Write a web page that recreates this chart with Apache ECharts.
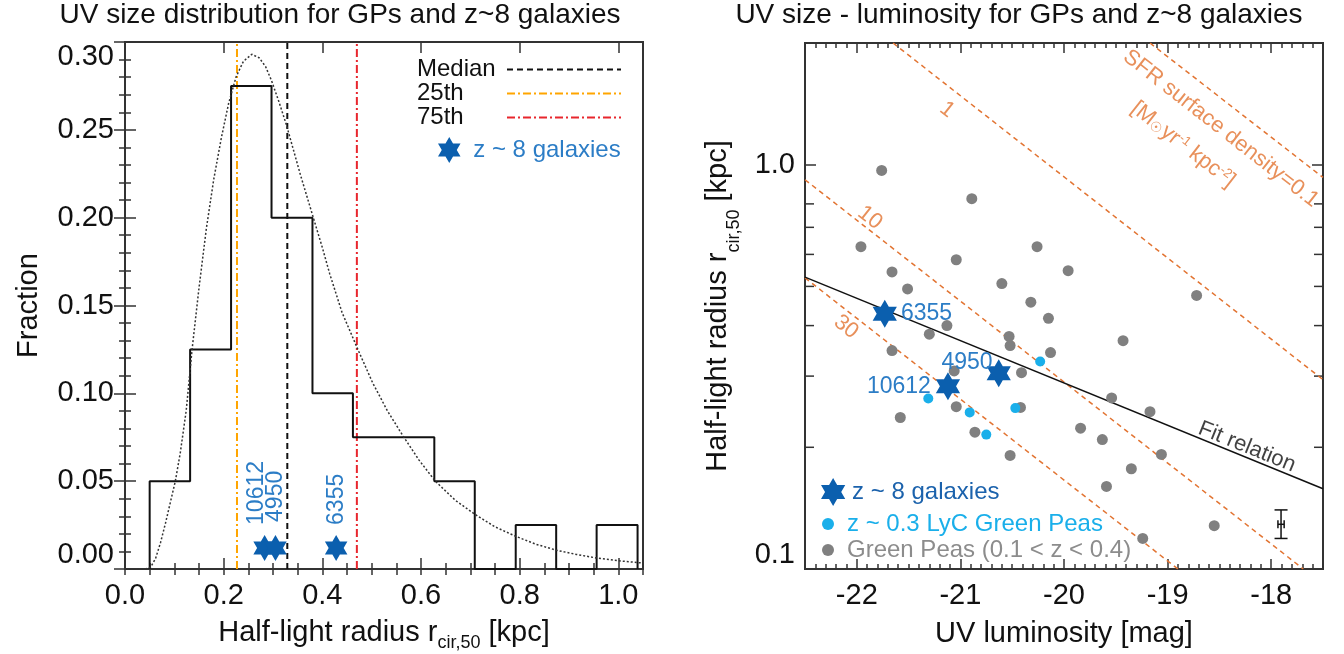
<!DOCTYPE html>
<html>
<head>
<meta charset="utf-8">
<script src="https://cdn.jsdelivr.net/npm/echarts@6/dist/echarts.min.js"></script>
<style>
  html, body { margin: 0; padding: 0; background: #fff; }
  #chart { width: 1344px; height: 654px; }
</style>
</head>
<body>
<div id="chart"></div>
<script>
// ---------- UV size distribution (left panel) ----------
const binEdges = [0.050, 0.132, 0.215, 0.297, 0.380, 0.462, 0.544, 0.627, 0.709, 0.792, 0.874, 0.956, 1.039];
const binFraction = [0.050, 0.125, 0.275, 0.200, 0.100, 0.075, 0.075, 0.050, 0.000, 0.025, 0.000, 0.025];

// log-normal fit to the size distribution
const fitCurveR = [0, 0.040, 0.052, 0.062, 0.072, 0.082, 0.092, 0.102, 0.112, 0.124, 0.136, 0.150, 0.165, 0.180,
  0.195, 0.210, 0.225, 0.240, 0.257, 0.272, 0.285, 0.297, 0.312, 0.327, 0.342, 0.356, 0.371, 0.386, 0.400, 0.415,
  0.440, 0.472, 0.502, 0.532, 0.563, 0.596, 0.629, 0.670, 0.710, 0.750, 0.792, 0.834, 0.876, 0.915, 0.955, 1.000, 1.050];
const fitCurveFrac = [0, 0, 0.001, 0.006, 0.015, 0.026, 0.038, 0.050, 0.066, 0.090, 0.125, 0.160, 0.194, 0.222,
  0.245, 0.265, 0.280, 0.289, 0.293, 0.291, 0.286, 0.278, 0.266, 0.253, 0.238, 0.224, 0.210, 0.196, 0.183, 0.168,
  0.146, 0.125, 0.106, 0.090, 0.076, 0.062, 0.050, 0.039, 0.031, 0.024, 0.0186, 0.014, 0.0106, 0.0083, 0.0063, 0.0047, 0.0034];

const percentileNames = ['Median', '25th', '75th'];
const percentileR = [0.329, 0.227, 0.470];

// ---------- z~8 galaxies ----------
const z8Ids = ['10612', '4950', '6355'];
const z8Radius = [0.283, 0.305, 0.428];
const z8Mag = [-21.12, -20.63, -21.73];
const z8MarkerFraction = 0.012;

// ---------- UV size - luminosity (right panel) ----------
const gpMag = [-21.76, -20.89, -21.96, -20.26, -21.04, -19.96, -21.66, -20.60, -21.51, -20.32, -20.15, -18.72,
  -21.13, -21.30, -20.53, -20.52, -19.43, -21.66, -20.13, -21.06, -20.41, -19.54, -21.04, -20.42, -19.17, -21.58,
  -19.84, -20.86, -19.63, -19.06, -20.52, -19.35, -19.59, -18.55, -19.24];
const gpRadius = [0.968, 0.824, 0.627, 0.627, 0.582, 0.547, 0.543, 0.508, 0.493, 0.457, 0.417, 0.475,
  0.400, 0.381, 0.376, 0.357, 0.367, 0.347, 0.343, 0.309, 0.306, 0.265, 0.252, 0.251, 0.245, 0.237,
  0.223, 0.218, 0.209, 0.192, 0.191, 0.177, 0.160, 0.128, 0.119];

const lycMag = [-20.23, -21.31, -20.91, -20.47, -20.75];
const lycRadius = [0.326, 0.264, 0.244, 0.250, 0.215];

const fitMag = [-22.5, -17.5];
const fitRadius = [0.527, 0.158];

// constant SFR surface density lines [Msun/yr/kpc^2]
const sfrLevels = ['0.1', '1', '10', '30'];
const sfrMag = [[-19.17, -17.5], [-21.65, -17.5], [-22.5, -17.69], [-22.5, -18.90]];
const sfrRadius = [[2.0, 0.93], [2.0, 0.294], [0.918, 0.1], [0.525, 0.1]];

// typical uncertainty
const errMag = -17.905, errMagHalf = 0.03;
const errRadius = 0.129, errRadiusLow = 0.119, errRadiusHigh = 0.140;

// ---------- axes ----------
const sizeRange = [0, 1.05];
const fracRange = [0, 0.30];
const magRange = [-22.5, -17.5];
const radiusRange = [0.1, 2.0];
const sizeTicks = [0, 0.2, 0.4, 0.6, 0.8, 1.0];
const magTicks = [-22, -21, -20, -19, -18];
const radiusMinorTicks = [0.2, 0.3, 0.4, 0.5, 0.6, 0.7, 0.8];

// ---------- styling ----------
const FONT = 'Liberation Sans';
const AX = '#333';
const TXT = '#111';
const STAR_PATH = 'path://M0,-100 L28.87,-50 L86.6,-50 L57.74,0 L86.6,50 L28.87,50 L0,100 L-28.87,50 L-86.6,50 L-57.74,0 L-86.6,-50 L-28.87,-50 Z';
const STAR_COLOR = '#0B5FAE';
const STAR_TEXT = '#2C7DC6';
const LYC_COLOR = '#1AAFEA';
const GP_COLOR = '#808080';
const SFR_COLOR = '#E27432';
const percentileStyles = [
  { color: '#111111', type: [6, 4] },
  { color: '#FFA500', type: [8, 3, 2, 3] },
  { color: '#E8262D', type: [8, 3, 2, 3] }
];

function subscriptRich(drop) {
  return {
    a: { fontSize: 29, fontFamily: FONT, color: TXT, verticalAlign: 'top' },
    s: { fontSize: 18, fontFamily: FONT, color: TXT, verticalAlign: 'top', padding: [drop, 0, 0, 0] }
  };
}
const radiusName = '{a|Half-light radius r}{s|cir,50}{a| [kpc]}';

function tickAxis(grid, position, range, opts) {
  const ax = {
    gridIndex: grid, type: 'value', position: position, min: range[0], max: range[1],
    axisLine: { show: false },
    axisTick: { show: true, inside: true, length: opts.len, lineStyle: { color: AX, width: 1.5 } },
    axisLabel: { show: false },
    splitLine: { show: false }
  };
  if (opts.interval) ax.interval = opts.interval;
  if (opts.custom) ax.axisTick.customValues = opts.custom;
  return ax;
}

const xAxes = [];
// left panel: minor ticks, bottom and top
xAxes.push(tickAxis(0, 'bottom', sizeRange, { len: 6, interval: 0.05 }));
xAxes.push(tickAxis(0, 'top', sizeRange, { len: 6, interval: 0.05 }));
// left panel: major ticks with labels
const sizeMajor = tickAxis(0, 'bottom', sizeRange, { len: 11, custom: sizeTicks });
sizeMajor.axisLabel = { show: true, customValues: sizeTicks, formatter: v => v.toFixed(1),
  fontSize: 29, fontFamily: FONT, color: TXT, margin: 12 };
sizeMajor.name = radiusName;
sizeMajor.nameLocation = 'middle';
sizeMajor.nameGap = 49;
sizeMajor.nameTextStyle = { rich: subscriptRich(16) };
xAxes.push(sizeMajor);
xAxes.push(tickAxis(0, 'top', sizeRange, { len: 11, custom: sizeTicks }));
// right panel
xAxes.push(tickAxis(1, 'bottom', magRange, { len: 5, interval: 0.1 }));
xAxes.push(tickAxis(1, 'top', magRange, { len: 5, interval: 0.1 }));
const magMajor = tickAxis(1, 'bottom', magRange, { len: 10, custom: magTicks });
magMajor.axisLabel = { show: true, customValues: magTicks, formatter: v => String(Math.round(v)),
  fontSize: 29, fontFamily: FONT, color: TXT, margin: 12 };
magMajor.name = 'UV luminosity [mag]';
magMajor.nameLocation = 'middle';
magMajor.nameGap = 50;
magMajor.nameTextStyle = { fontSize: 29, fontFamily: FONT, color: TXT };
xAxes.push(magMajor);
xAxes.push(tickAxis(1, 'top', magRange, { len: 10, custom: magTicks }));

const fracAxis = {
  gridIndex: 0, type: 'value', position: 'left', min: fracRange[0], max: fracRange[1], interval: 0.05,
  axisLine: { show: false },
  axisTick: { show: true, inside: true, length: 11, lineStyle: { color: AX, width: 1.5 } },
  minorTick: { show: true, splitNumber: 5, length: 6, lineStyle: { color: AX, width: 1.5 } },
  axisLabel: { formatter: v => v.toFixed(2), fontSize: 29, fontFamily: FONT, color: TXT, margin: 11,
    verticalAlignMinLabel: 'bottom', verticalAlignMaxLabel: 'top' },
  splitLine: { show: false }, minorSplitLine: { show: false },
  name: 'Fraction', nameLocation: 'middle', nameGap: 82, nameRotate: 90,
  nameTextStyle: { fontSize: 29, fontFamily: FONT, color: TXT }
};
const fracMirror = Object.assign({}, fracAxis, { position: 'right', axisLabel: { show: false }, name: '' });

const radiusAxis = {
  gridIndex: 1, type: 'log', logBase: 10, position: 'left', min: radiusRange[0], max: radiusRange[1],
  axisLine: { show: false },
  axisTick: { show: true, inside: true, length: 11, lineStyle: { color: AX, width: 1.5 } },
  axisLabel: { formatter: v => v.toFixed(1), fontSize: 29, fontFamily: FONT, color: TXT, margin: 10,
    showMaxLabel: false, verticalAlignMinLabel: 'bottom' },
  splitLine: { show: false },
  name: radiusName, nameLocation: 'middle', nameGap: 62, nameRotate: 90,
  nameTextStyle: { rich: subscriptRich(22) }
};
const radiusMirror = Object.assign({}, radiusAxis, { position: 'right', axisLabel: { show: false }, name: '' });

// ---------- series ----------
const series = [];

// histogram outline
const histData = [[binEdges[0], 0]];
binFraction.forEach((f, i) => histData.push([binEdges[i], f]));
histData.push([binEdges[binEdges.length - 1], binFraction[binFraction.length - 1]]);
histData.push([binEdges[binEdges.length - 1], 0]);
series.push({
  type: 'line', name: 'histogram', xAxisIndex: 2, yAxisIndex: 0, data: histData, step: 'end',
  symbol: 'none', silent: true, lineStyle: { color: '#111', width: 2 }, z: 3
});

// fitted curve
series.push({
  type: 'line', name: 'fit', xAxisIndex: 2, yAxisIndex: 0,
  data: fitCurveR.map((r, i) => [r, fitCurveFrac[i]]),
  symbol: 'none', silent: true, lineStyle: { color: '#333', width: 1.5, type: [2, 2] }, z: 3
});

// percentile markers
percentileNames.forEach((name, i) => {
  series.push({
    type: 'line', name: name, xAxisIndex: 2, yAxisIndex: 0,
    data: [[percentileR[i], fracRange[0]], [percentileR[i], fracRange[1]]],
    symbol: 'none', silent: true,
    itemStyle: { color: percentileStyles[i].color },
    lineStyle: { color: percentileStyles[i].color, width: 2, type: percentileStyles[i].type }, z: 2
  });
});

// z~8 galaxies on the size axis; label offsets are in the rotated label frame
const leftLabelOffset = { '10612': [0, -8], '4950': [3, 0], '6355': [0, 1] };
series.push({
  type: 'scatter', name: 'z ~ 8 galaxies', xAxisIndex: 2, yAxisIndex: 0,
  data: z8Ids.map((id, i) => ({
    value: [z8Radius[i], z8MarkerFraction],
    label: { offset: leftLabelOffset[id] }
  })),
  symbol: STAR_PATH, symbolSize: 26, symbolKeepAspect: true,
  itemStyle: { color: STAR_COLOR, opacity: 1 },
  label: {
    show: true, formatter: p => z8Ids[p.dataIndex], position: 'top', rotate: 90,
    align: 'left', verticalAlign: 'middle', distance: 10,
    fontSize: 23, fontFamily: FONT, color: STAR_TEXT
  },
  z: 5
});

// SFR surface density lines
sfrLevels.forEach((lvl, i) => {
  series.push({
    type: 'line', name: 'SFR ' + lvl, xAxisIndex: 6, yAxisIndex: 2,
    data: sfrMag[i].map((m, k) => [m, sfrRadius[i][k]]),
    symbol: 'none', silent: true, lineStyle: { color: SFR_COLOR, width: 1.5, type: [5, 4] }, z: 2
  });
});

// fit relation
series.push({
  type: 'line', name: 'Fit relation', xAxisIndex: 6, yAxisIndex: 2,
  data: fitMag.map((m, i) => [m, fitRadius[i]]),
  symbol: 'none', silent: true, lineStyle: { color: '#111', width: 1.5 }, z: 3
});

series.push({
  type: 'scatter', name: 'Green Peas (0.1 < z < 0.4)', xAxisIndex: 6, yAxisIndex: 2,
  data: gpMag.map((m, i) => [m, gpRadius[i]]),
  symbol: 'circle', symbolSize: 11, itemStyle: { color: GP_COLOR, opacity: 1 }, z: 4
});
series.push({
  type: 'scatter', name: 'z ~ 0.3 LyC Green Peas', xAxisIndex: 6, yAxisIndex: 2,
  data: lycMag.map((m, i) => [m, lycRadius[i]]),
  symbol: 'circle', symbolSize: 10, itemStyle: { color: LYC_COLOR, opacity: 1 }, z: 5
});

const rightLabelLayout = {
  '10612': { position: 'left', distance: 5 },
  '4950': { position: 'left', distance: -6, offset: [0, -11] },
  '6355': { position: 'right', distance: 4 }
};
series.push({
  type: 'scatter', name: 'z ~ 8 galaxies', xAxisIndex: 6, yAxisIndex: 2,
  data: z8Ids.map((id, i) => ({ value: [z8Mag[i], z8Radius[i]], label: rightLabelLayout[id] })),
  symbol: STAR_PATH, symbolSize: 28, symbolKeepAspect: true,
  itemStyle: { color: STAR_COLOR, opacity: 1 },
  label: { show: true, formatter: p => z8Ids[p.dataIndex], fontSize: 23, fontFamily: FONT, color: STAR_TEXT },
  z: 6
});

// error bar
series.push({
  type: 'custom', name: 'uncertainty', xAxisIndex: 6, yAxisIndex: 2, silent: true,
  data: [[errMag, errRadius, errRadiusLow, errRadiusHigh, errMagHalf]],
  encode: { x: 0, y: 1 },
  renderItem: (params, api) => {
    const m = api.value(0), r = api.value(1);
    const lo = api.coord([m, api.value(2)]);
    const hi = api.coord([m, api.value(3)]);
    const l = api.coord([m - api.value(4), r]);
    const rt = api.coord([m + api.value(4), r]);
    const cap = 6.5, hcap = 4;
    const st = { stroke: '#111', lineWidth: 1.5 };
    const seg = (x1, y1, x2, y2) => ({ type: 'line', shape: { x1, y1, x2, y2 }, style: st });
    return {
      type: 'group', children: [
        seg(lo[0], lo[1], hi[0], hi[1]),
        seg(lo[0] - cap, lo[1], lo[0] + cap, lo[1]),
        seg(hi[0] - cap, hi[1], hi[0] + cap, hi[1]),
        seg(l[0], l[1], rt[0], rt[1]),
        seg(l[0], l[1] - hcap, l[0], l[1] + hcap),
        seg(rt[0], rt[1] - hcap, rt[0], rt[1] + hcap)
      ]
    };
  },
  z: 5
});

// minor ticks of the logarithmic radius axis (both sides)
series.push({
  type: 'custom', name: 'radius minor ticks', xAxisIndex: 6, yAxisIndex: 2, silent: true,
  data: radiusMinorTicks.map(v => [magRange[0], v]),
  encode: { x: 0, y: 1 },
  renderItem: (params, api) => {
    const v = api.value(1);
    const p0 = api.coord([magRange[0], v]);
    const p1 = api.coord([magRange[1], v]);
    const st = { stroke: AX, lineWidth: 1.5 };
    return {
      type: 'group', children: [
        { type: 'line', shape: { x1: p0[0], y1: p0[1], x2: p0[0] + 9, y2: p0[1] }, style: st },
        { type: 'line', shape: { x1: p1[0] - 9, y1: p1[1], x2: p1[0], y2: p1[1] }, style: st }
      ]
    };
  },
  z: 1
});

// text annotations placed in data coordinates
const sfrUnit = '{a|[M}{s|\u2609}{a|yr}{p|-1}{a| kpc}{p|-2}{a|]}';
const annotations = [
  { text: '1', at: [-21.13, 1.368], rotate: -38, color: SFR_COLOR },
  { text: '10', at: [-21.873, 0.739], rotate: -38, color: SFR_COLOR },
  { text: '30', at: [-22.104, 0.397], rotate: -38, color: SFR_COLOR },
  { text: 'SFR surface density=0.1', at: [-18.485, 1.228], rotate: -38, color: SFR_COLOR },
  { text: sfrUnit, at: [-18.851, 1.121], rotate: -38, color: SFR_COLOR },
  { text: 'Fit relation', at: [-18.234, 0.2005], rotate: -22, color: TXT }
];
series.push({
  type: 'scatter', name: 'annotations', xAxisIndex: 6, yAxisIndex: 2, silent: true,
  symbolSize: 0,
  data: annotations.map(a => ({
    value: a.at,
    label: { formatter: a.text, rotate: a.rotate, color: a.color }
  })),
  label: {
    show: true, position: 'inside', align: 'center', verticalAlign: 'middle',
    fontSize: 22, fontFamily: FONT,
    rich: {
      a: { fontSize: 22, fontFamily: FONT, color: SFR_COLOR, verticalAlign: 'bottom' },
      s: { fontSize: 14, fontFamily: FONT, color: SFR_COLOR, verticalAlign: 'bottom' },
      p: { fontSize: 13, fontFamily: FONT, color: SFR_COLOR, verticalAlign: 'top' }
    }
  },
  z: 4
});

// ---------- legends ----------
const legends = [
  {
    data: percentileNames, orient: 'vertical', left: 417, top: 57.5, align: 'right', padding: 0,
    itemWidth: 114, itemHeight: 12, itemGap: 0, selectedMode: false,
    itemStyle: { opacity: 0, borderWidth: 0 },
    formatter: name => '{t|' + name + '}',
    textStyle: { rich: { t: { width: 85, align: 'left', fontSize: 24, lineHeight: 19, fontFamily: FONT, color: TXT } } }
  },
  {
    data: ['z ~ 8 galaxies'], left: 438, top: 137, padding: 0, itemWidth: 26, itemHeight: 26, selectedMode: false,
    textStyle: { fontSize: 24, fontFamily: FONT, color: STAR_TEXT, padding: [0, 0, 0, 6] }
  },
  {
    data: ['z ~ 8 galaxies'], left: 821, top: 478, padding: 0, itemWidth: 28, itemHeight: 28, selectedMode: false,
    textStyle: { fontSize: 24, fontFamily: FONT, color: '#1B62AC' }
  },
  {
    data: ['z ~ 0.3 LyC Green Peas'], left: 822, top: 512, padding: 0, itemWidth: 28, itemHeight: 12, selectedMode: false,
    textStyle: { fontSize: 24, fontFamily: FONT, color: LYC_COLOR }
  },
  {
    data: ['Green Peas (0.1 < z < 0.4)'], left: 822, top: 538, padding: 0, itemWidth: 28, itemHeight: 12, selectedMode: false,
    textStyle: { fontSize: 24, fontFamily: FONT, color: '#8C8C8C' }
  }
];

const option = {
  animation: false,
  backgroundColor: '#fff',
  textStyle: { fontFamily: FONT },
  title: [
    { text: 'UV size distribution for GPs and z~8 galaxies', left: 340, top: 1, textAlign: 'center', padding: 0,
      textStyle: { fontSize: 28, fontWeight: 'normal', fontFamily: FONT, color: TXT } },
    { text: 'UV size - luminosity for GPs and z~8 galaxies', left: 1019, top: 1, textAlign: 'center', padding: 0,
      textStyle: { fontSize: 28, fontWeight: 'normal', fontFamily: FONT, color: TXT } }
  ],
  grid: [
    { left: 125, top: 42, width: 518, height: 527, show: true, borderColor: AX, borderWidth: 2,
      backgroundColor: 'transparent', containLabel: false, outerBoundsMode: 'none' },
    { left: 805, top: 43, width: 518, height: 526, show: true, borderColor: AX, borderWidth: 2,
      backgroundColor: 'transparent', containLabel: false, outerBoundsMode: 'none' }
  ],
  xAxis: xAxes,
  yAxis: [fracAxis, fracMirror, radiusAxis, radiusMirror],
  legend: legends,
  series: series
};

const chart = echarts.init(document.getElementById('chart'), null, { renderer: 'canvas' });
chart.setOption(option);
</script>
</body>
</html>
